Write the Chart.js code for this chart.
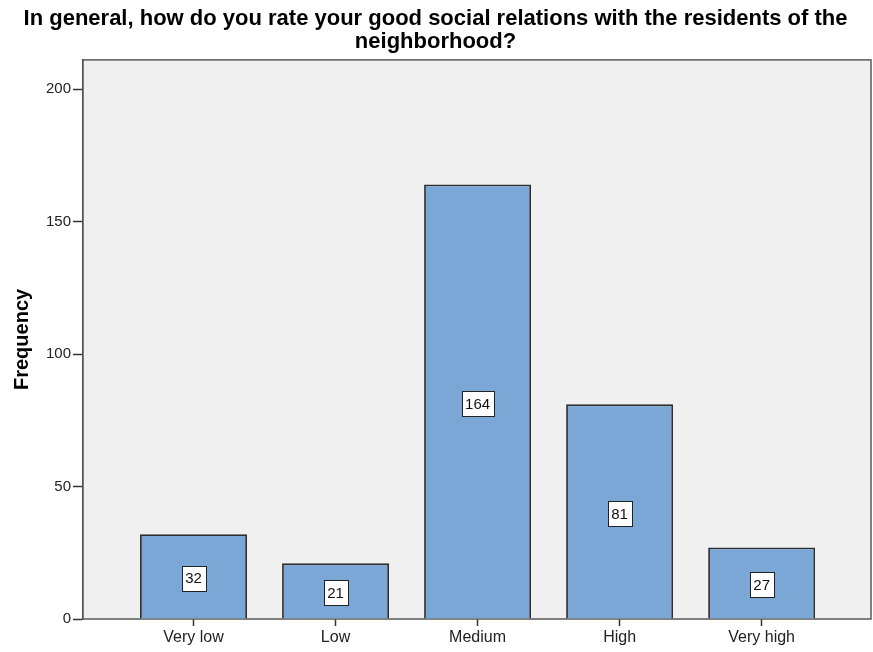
<!DOCTYPE html>
<html>
<head>
<meta charset="utf-8">
<script src="https://cdn.jsdelivr.net/npm/chart.js@4/dist/chart.umd.min.js"></script>
<style>
  html, body { margin: 0; padding: 0; background: #fff; }
  #wrap { width: 873px; height: 652px; }
</style>
</head>
<body>
<div id="wrap"><canvas id="freqChart"></canvas></div>
<script>
// dados
const categories = ['Very low', 'Low', 'Medium', 'High', 'Very high'];
const frequencies = [32, 21, 164, 81, 27];
const yTicks = [0, 50, 100, 150, 200];

const FONT = "Arial, 'Liberation Sans', sans-serif";

// fundo cinza e moldura da área do gráfico
const plotFrame = {
    id: 'plotFrame',
    beforeDatasetsDraw(chart) {
        const { ctx, chartArea: a } = chart;
        ctx.save();
        ctx.fillStyle = '#f0f0f0';
        ctx.fillRect(a.left, a.top, a.right - a.left, a.bottom - a.top);
        ctx.strokeStyle = '#5a5a5a';
        ctx.lineWidth = 1.5;
        ctx.strokeRect(a.left, a.top, a.right - a.left, a.bottom - a.top);
        ctx.restore();
    }
};

// caixinhas brancas com o valor no meio de cada barra
const valueBoxes = {
    id: 'valueBoxes',
    afterDatasetsDraw(chart) {
        const { ctx } = chart;
        const meta = chart.getDatasetMeta(0);
        ctx.save();
        ctx.font = '15px ' + FONT;
        ctx.textAlign = 'center';
        ctx.textBaseline = 'middle';
        meta.data.forEach((bar, i) => {
            const txt = String(frequencies[i]);
            const w = Math.round(ctx.measureText(txt).width + 7);
            const h = 25;
            const cx = bar.x;
            const cy = (bar.y + bar.base) / 2 + 2;
            const x0 = Math.round(cx - w / 2) + 0.5;
            const y0 = Math.round(cy - h / 2) + 0.5;
            ctx.fillStyle = '#ffffff';
            ctx.fillRect(x0, y0, w, h);
            ctx.strokeStyle = '#222';
            ctx.lineWidth = 1;
            ctx.strokeRect(x0, y0, w, h);
            ctx.fillStyle = '#111';
            ctx.fillText(txt, cx, cy + 1);
        });
        ctx.restore();
    }
};

const ctx = document.getElementById('freqChart').getContext('2d');
new Chart(ctx, {
    type: 'bar',
    data: {
        datasets: [{
            label: 'Frequency',
            data: frequencies.map((v, i) => ({ x: i, y: v })),
            backgroundColor: '#7aa7d6',
            borderColor: '#2e2e2e',
            borderWidth: 1.8,
            categoryPercentage: 1,
            barPercentage: 0.753
        }]
    },
    options: {
        responsive: true,
        maintainAspectRatio: false,
        animation: false,
        layout: { padding: { left: 0, right: 2, top: 0, bottom: 0 } },
        plugins: {
            legend: { display: false },
            tooltip: { enabled: false },
            title: {
                display: true,
                text: ['In general, how do you rate your good social relations with the residents of the', 'neighborhood?'],
                color: '#000',
                font: { family: FONT, size: 22, weight: 'bold', lineHeight: 1.02 },
                padding: { top: 8, bottom: 7 }
            }
        },
        scales: {
            x: {
                type: 'linear',
                offset: false,
                min: -0.778,
                max: 4.77,
                afterBuildTicks: axis => { axis.ticks = categories.map((c, i) => ({ value: i })); },
                afterFit: axis => { axis.height = 33; },
                grid: { display: true, offset: false, drawOnChartArea: false, tickLength: 7, color: '#333', tickWidth: 1.5 },
                border: { display: false },
                ticks: {
                    autoSkip: false,
                    maxRotation: 0,
                    padding: 2,
                    color: '#222',
                    font: { family: FONT, size: 16 },
                    callback: v => categories[v]
                }
            },
            y: {
                min: 0,
                max: 211,
                afterBuildTicks: axis => { axis.ticks = yTicks.map(v => ({ value: v })); },
                afterFit: axis => { axis.width = 83; },
                grid: { display: true, drawOnChartArea: false, tickLength: 10, color: '#333', tickWidth: 1.5 },
                border: { display: true, color: '#333', width: 1.5 },
                title: {
                    display: true,
                    text: 'Frequency',
                    color: '#000',
                    font: { family: FONT, size: 20, weight: 'bold' },
                    padding: { top: 10, bottom: 0 }
                },
                ticks: {
                    padding: 2,
                    color: '#222',
                    font: { family: FONT, size: 15 }
                }
            }
        }
    },
    plugins: [plotFrame, valueBoxes]
});
</script>
</body>
</html>
